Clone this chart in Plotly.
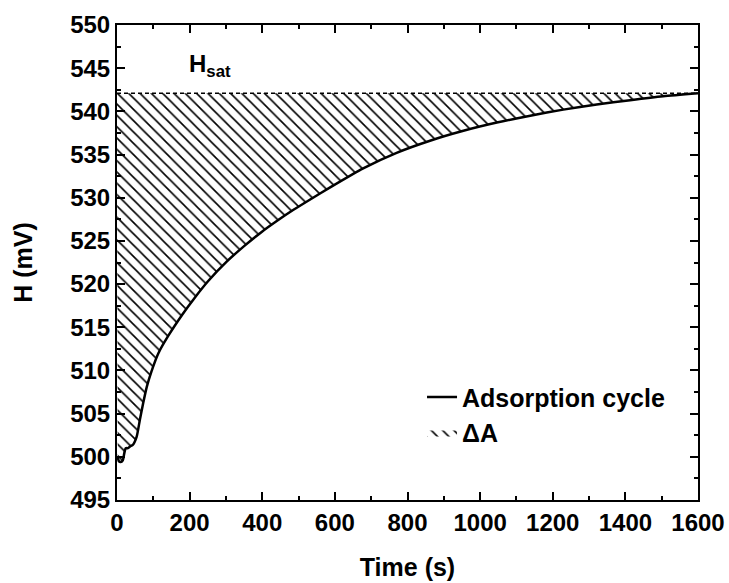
import plotly.graph_objects as go

# Data
time_s = [2, 5, 10, 16, 20, 24, 30, 36, 44, 54, 63, 72, 82, 95, 114, 141, 182, 210,
          250, 302, 350, 394, 440, 486, 532, 587, 678, 770, 862, 954, 1046, 1138,
          1229, 1321, 1413, 1504, 1600]
h_mv = [500.0, 499.5, 499.4, 499.6, 500.4, 501.0, 501.0, 501.2, 501.4, 502.3, 504.3,
        506.2, 508.1, 509.9, 512.0, 514.0, 516.6, 518.2, 520.3, 522.6, 524.4, 525.9,
        527.3, 528.6, 529.8, 531.2, 533.4, 535.2, 536.6, 537.75, 538.7, 539.5,
        540.2, 540.8, 541.3, 541.75, 542.1]
h_sat = 542.1
sat_x = [0, 1600]
sat_y = [h_sat, h_sat]

FONT = "Liberation Sans"

fig = go.Figure()

# Saturation line (dashed)
fig.add_trace(go.Scatter(
    x=sat_x, y=sat_y, mode="lines",
    line=dict(color="black", width=1.5, dash="4px,3px"),
    showlegend=False, hoverinfo="skip"))

# Hatched area between curve and saturation
fig.add_trace(go.Scatter(
    x=time_s, y=h_mv, mode="lines", fill="tonexty",
    line=dict(color="rgba(0,0,0,0)", width=0, shape="spline", smoothing=0.6),
    fillcolor="rgba(255,255,255,0)",
    fillpattern=dict(shape="\\", fgcolor="black", fgopacity=1, bgcolor="white",
                     size=8, solidity=0.2),
    name="ΔA", hoverinfo="skip"))

# Adsorption curve
fig.add_trace(go.Scatter(
    x=time_s, y=h_mv, mode="lines",
    line=dict(color="black", width=2.5, shape="spline", smoothing=0.6),
    name="Adsorption cycle"))

axis_common = dict(
    showline=True, linecolor="black", linewidth=2, mirror="allticks",
    ticks="inside", ticklen=8, tickwidth=1.5, tickcolor="black",
    showgrid=False, zeroline=False, automargin=False,
    tickfont=dict(family=FONT, size=24, color="black", weight="bold"),
)

fig.update_xaxes(range=[0, 1600], dtick=200, tick0=0,
                 minor=dict(ticks="inside", ticklen=4, dtick=100, tickcolor="black", tickwidth=1.5),
                 title=dict(text="Time (s)", font=dict(family=FONT, size=25, color="black", weight="bold"),
                            standoff=24),
                 **axis_common)
fig.update_yaxes(range=[495, 550], dtick=5, tick0=495,
                 minor=dict(ticks="inside", ticklen=4, dtick=2.5, tickcolor="black", tickwidth=1.5),
                 title=dict(text="H (mV)", font=dict(family=FONT, size=25, color="black", weight="bold"),
                            standoff=30),
                 **axis_common)

fig.add_annotation(x=255, y=545.3, xref="x", yref="y", text="H<sub>sat</sub>",
                   showarrow=False, font=dict(family=FONT, size=24, color="black", weight="bold"))

fig.update_layout(
    width=729, height=583,
    margin=dict(l=117, r=31, t=25, b=83),
    paper_bgcolor="white", plot_bgcolor="white",
    showlegend=True,
    legend=dict(x=0.525, y=0.265, xanchor="left", yanchor="top", traceorder="reversed",
                bgcolor="rgba(0,0,0,0)",
                font=dict(family=FONT, size=25, color="black", weight="bold")),
)

fig.write_html("out.html")
